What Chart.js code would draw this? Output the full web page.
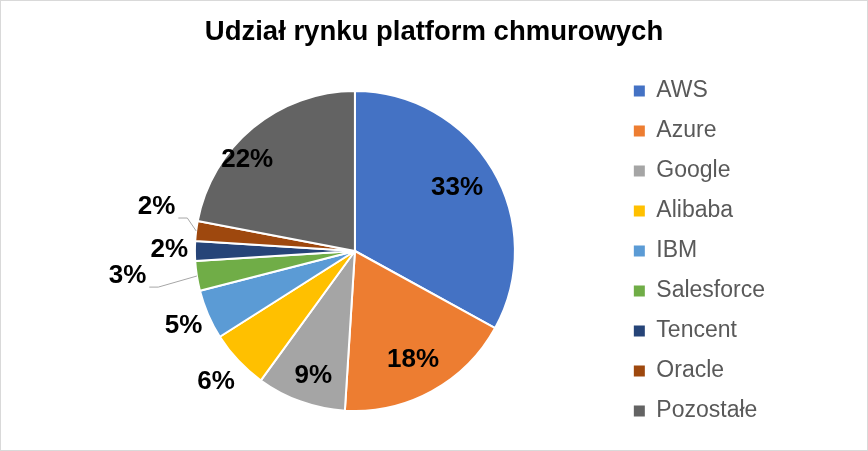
<!DOCTYPE html>
<html>
<head>
<meta charset="utf-8">
<script src="https://cdn.jsdelivr.net/npm/chart.js@4.4.1/dist/chart.umd.min.js"></script>
<style>
  html, body { margin: 0; padding: 0; background: #fff; }
  #wrap { width: 868px; height: 451px; position: relative; }
</style>
</head>
<body>
<div id="wrap"><canvas id="myChart"></canvas></div>
<script>
var categories = ['AWS', 'Azure', 'Google', 'Alibaba', 'IBM', 'Salesforce', 'Tencent', 'Oracle', 'Pozostałe'];
var shares = [33, 18, 9, 6, 5, 3, 2, 2, 22];
var sliceColors = ['#4472C4', '#ED7D31', '#A5A5A5', '#FFC000', '#5B9BD5', '#70AD47', '#264478', '#9E480E', '#636363'];

// where each percent label sits: [radius factor, angle shift in degrees]
var labelPlace = [[0.75, -1], [0.77, 0.6], [0.82, -1.3], [1.19, 0], [1.17, -0.3], [1.43, 2.7], [1.16, 0.3], [1.27, 5.3], [0.88, -10.3]];
var leaderFor = [5, 7];

var fontName = '"Liberation Sans", Arial, sans-serif';

var frame = {
    id: 'frame',
    afterDraw: function (chart) {
        var ctx = chart.ctx;
        ctx.save();
        ctx.strokeStyle = '#D9D9D9';
        ctx.lineWidth = 1;
        ctx.strokeRect(0.5, 0.5, chart.width - 1, chart.height - 1);
        ctx.restore();
    }
};

var pctLabels = {
    id: 'pctLabels',
    afterDatasetsDraw: function (chart) {
        var ctx = chart.ctx;
        var arcs = chart.getDatasetMeta(0).data;
        ctx.save();
        ctx.font = 'bold 26px ' + fontName;
        ctx.fillStyle = '#000';
        ctx.textAlign = 'center';
        ctx.textBaseline = 'middle';
        arcs.forEach(function (arc, i) {
            var p = arc.getProps(['x', 'y', 'startAngle', 'endAngle', 'outerRadius'], true);
            var mid = (p.startAngle + p.endAngle) / 2;
            var a = mid + labelPlace[i][1] * Math.PI / 180;
            var r = p.outerRadius * labelPlace[i][0];
            var lx = p.x + Math.cos(a) * r;
            var ly = p.y + Math.sin(a) * r;
            var txt = shares[i] + '%';
            ctx.fillText(txt, lx, ly);
            if (leaderFor.indexOf(i) >= 0) {
                var right = lx + ctx.measureText(txt).width / 2;
                var ex = p.x + Math.cos(mid) * p.outerRadius;
                var ey = p.y + Math.sin(mid) * p.outerRadius;
                ctx.beginPath();
                ctx.strokeStyle = '#A6A6A6';
                ctx.lineWidth = 1;
                ctx.moveTo(right + 3, ly + 11);
                ctx.lineTo(right + 12, ly + 11);
                ctx.lineTo(ex, ey);
                ctx.stroke();
            }
        });
        ctx.restore();
    }
};

var ctx = document.querySelector('#myChart').getContext('2d');
var myChart = new Chart(ctx, {
    type: 'pie',
    data: {
        labels: categories,
        datasets: [{
            data: shares,
            backgroundColor: sliceColors,
            borderColor: '#FFFFFF',
            borderWidth: 2,
            hoverOffset: 0,
            radius: 160
        }]
    },
    options: {
        responsive: true,
        maintainAspectRatio: false,
        animation: false,
        layout: {
            padding: { left: 93, right: 93, top: 0, bottom: 11.5 }
        },
        plugins: {
            title: {
                display: true,
                text: 'Udział rynku platform chmurowych',
                color: '#000',
                font: { family: fontName, size: 27.5, weight: 'bold' },
                padding: { top: 16, bottom: 13.5 }
            },
            legend: {
                position: 'right',
                fullSize: false,
                labels: {
                    boxWidth: 11,
                    boxHeight: 11,
                    padding: 17,
                    color: '#595959',
                    font: { family: fontName, size: 23 },
                    generateLabels: function (chart) {
                        var items = Chart.overrides.pie.plugins.legend.labels.generateLabels(chart);
                        items.forEach(function (it) {
                            it.lineWidth = 0;
                            it.strokeStyle = it.fillStyle;
                        });
                        return items;
                    }
                }
            },
            tooltip: { enabled: false }
        }
    },
    plugins: [pctLabels, frame]
});
</script>
</body>
</html>
